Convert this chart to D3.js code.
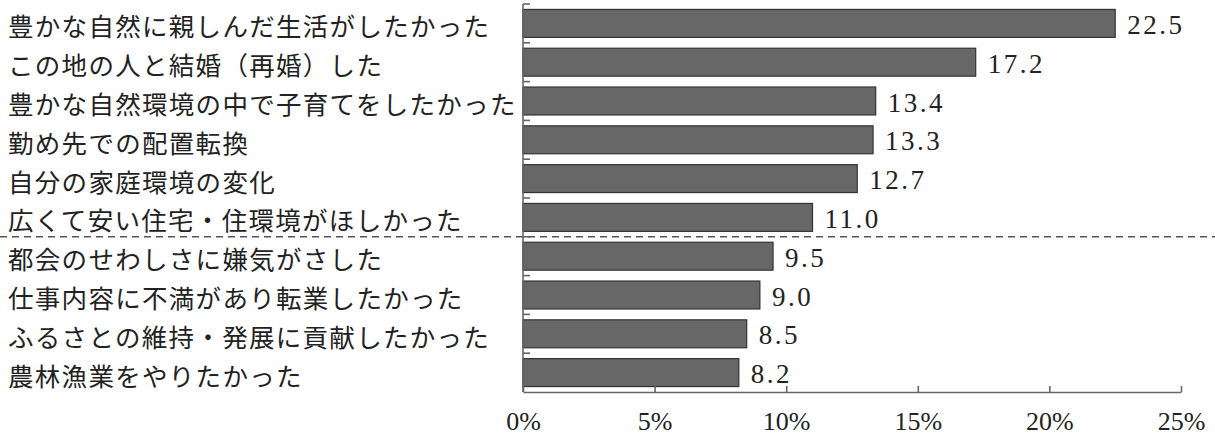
<!DOCTYPE html>
<html>
<head>
<meta charset="utf-8">
<script src="https://cdn.jsdelivr.net/npm/d3@7"></script>
<style>
  html, body { margin: 0; padding: 0; background: #fff; }
  svg { display: block; }
</style>
</head>
<body>
<svg id="chart" width="1215" height="437"></svg>
<script>
// Reasons for moving, percentage of respondents
const categories = [
  "豊かな自然に親しんだ生活がしたかった",
  "この地の人と結婚（再婚）した",
  "豊かな自然環境の中で子育てをしたかった",
  "勤め先での配置転換",
  "自分の家庭環境の変化",
  "広くて安い住宅・住環境がほしかった",
  "都会のせわしさに嫌気がさした",
  "仕事内容に不満があり転業したかった",
  "ふるさとの維持・発展に貢献したかった",
  "農林漁業をやりたかった"
];
const values = [22.5, 17.2, 13.4, 13.3, 12.7, 11.0, 9.5, 9.0, 8.5, 8.2];
const xTicks = [0, 5, 10, 15, 20, 25];
const dividerAfter = 6; // dashed separator between the top six and the rest

const svg = d3.select("#chart");
const W = 1215;

const x = d3.scaleLinear().domain([0, 25]).range([523, 1181]);
const y = d3.scaleBand().domain(categories).range([4, 392])
  .paddingInner(0.28).paddingOuter(0.14);

const jpFont = "'Noto Sans CJK JP', 'Noto Sans CJK SC', sans-serif";
const numFont = "'Liberation Serif', 'DejaVu Serif', serif";

// Bars
svg.append("g").selectAll("rect")
  .data(values)
  .join("rect")
  .attr("x", x(0))
  .attr("y", (d, i) => y(categories[i]))
  .attr("width", d => x(d) - x(0))
  .attr("height", y.bandwidth())
  .attr("fill", "#676767")
  .attr("stroke", "#333")
  .attr("stroke-width", 1.2);

// Value labels
svg.append("g").selectAll("text")
  .data(values)
  .join("text")
  .attr("x", d => x(d) + 12)
  .attr("y", (d, i) => y(categories[i]) + y.bandwidth() / 2 + 1.5)
  .attr("dominant-baseline", "central")
  .attr("font-family", numFont)
  .attr("font-size", 27)
  .attr("letter-spacing", 2.5)
  .attr("fill", "#222")
  .text(d => d.toFixed(1));

// Category labels
svg.append("g").selectAll("text")
  .data(categories)
  .join("text")
  .attr("x", 8)
  .attr("y", d => y(d) + y.bandwidth() / 2 + 1.5)
  .attr("dominant-baseline", "central")
  .attr("font-family", jpFont)
  .attr("font-size", 25.5)
  .attr("letter-spacing", 1.3)
  .attr("fill", "#222")
  .text(d => d);

// Left axis: line with inward ticks on category boundaries
const step = y.step();
const y0 = y.range()[0];
const boundaries = d3.range(categories.length).map(i => y0 + i * step);
const leftAxis = svg.append("g").attr("stroke", "#666").attr("stroke-width", 1.6);
leftAxis.append("line")
  .attr("x1", x(0)).attr("x2", x(0))
  .attr("y1", y0).attr("y2", y.range()[1]);
leftAxis.selectAll("line.tick")
  .data(boundaries)
  .join("line")
  .attr("class", "tick")
  .attr("x1", x(0)).attr("x2", x(0) + 7)
  .attr("y1", d => d).attr("y2", d => d);

// Bottom axis with upward ticks
const bottom = svg.append("g")
  .attr("transform", `translate(0,${y.range()[1]})`)
  .call(d3.axisBottom(x).tickValues(xTicks).tickSize(-6).tickSizeOuter(0)
    .tickFormat(d => d + "%"));
bottom.select(".domain").attr("stroke", "#666").attr("stroke-width", 1.6);
bottom.selectAll(".tick line").attr("stroke", "#666").attr("stroke-width", 1.6);
bottom.selectAll(".tick text")
  .attr("y", 29)
  .attr("dy", "0.35em")
  .attr("font-family", numFont)
  .attr("font-size", 26)
  .attr("fill", "#222");

// Dashed separator line
const yDiv = y0 + dividerAfter * step;
svg.append("line")
  .attr("x1", 0).attr("x2", W)
  .attr("y1", yDiv).attr("y2", yDiv)
  .attr("stroke", "#555")
  .attr("stroke-width", 1.5)
  .attr("stroke-dasharray", "7,5");
</script>
</body>
</html>
